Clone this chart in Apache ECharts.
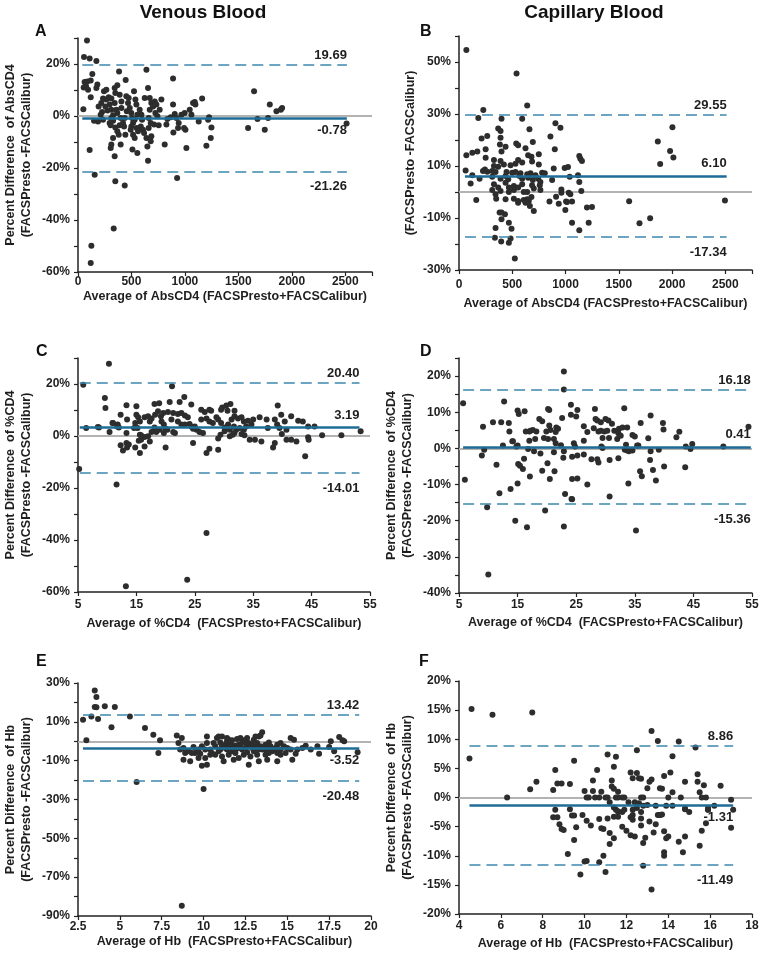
<!DOCTYPE html>
<html>
<head>
<meta charset="utf-8">
<script src="https://cdn.jsdelivr.net/npm/echarts@6/dist/echarts.min.js"></script>
<style>html,body{margin:0;padding:0;background:#fff;}#c{width:762px;height:959px;}</style>
</head>
<body>
<div id="c"></div>
<script>
// ---------- DATA ----------
const columnTitles = ['Venous Blood', 'Capillary Blood'];
const panelLetters = ['A', 'B', 'C', 'D', 'E', 'F'];

// [average, percent difference]
const venousAbsCD4 = [[84,29.0],[56,22.7],[109,22.1],[172,21.2],[134,16.2],[62,13.1],[87,13.3],[119,13.7],[53,11.0],[75,11.4],[94,10.1],[181,12.1],[172,10.8],[119,7.2],[50,2.6],[150,-1.8],[187,-2.1],[109,-13.1],[156,-22.6],[125,-49.9],[119,-56.5],
[243,9.5],[234,6.7],[218,5.0],[193,3.7],[225,1.5],[212,0.5],[234,-1.4],[265,10.1],[287,7.2],[312,6.7],[296,4.4],[312,2.4],[328,0.3],[312,-0.8],[296,-2.7],[306,-3.6],[275,2.1],[343,10.8],[368,11.8],[349,8.8],[343,5.0],[359,2.4],[368,1.2],[328,-1.8],[349,-4.4],[368,-5.9],[328,-8.5],[312,-11.0],[306,-12.3],[343,-15.5],[349,-25.1],[334,-43.3],[384,17.1],[265,6.3],[256,3.7],
[446,13.8],[390,8.2],[406,5.6],[406,3.1],[399,-0.8],[421,-2.7],[390,-3.6],[381,-7.2],[399,-11.0],[437,-26.7],[443,-7.2],[452,7.6],[474,6.9],[468,5.0],[484,3.1],[499,1.2],[505,-0.8],[515,-2.7],[499,-4.0],[493,-5.3],[515,-7.2],[530,-8.5],[509,-12.9],[555,-14.2],[524,9.5],[537,6.3],[546,4.4],[555,0.5],[530,-1.4],[549,-4.6],[562,-5.9],[456,1.8],[437,-0.8],[431,-4.0],
[640,17.8],[655,10.8],[577,2.4],[593,0.5],[599,-1.4],[587,-4.0],[608,-5.3],[618,-6.5],[640,-8.5],[649,-11.7],[655,-17.2],[624,6.9],[671,6.9],[686,5.0],[671,2.4],[661,-0.8],[680,-2.7],[661,-4.6],[686,-7.8],[680,-9.7],[702,3.7],[718,5.6],[733,4.4],[724,1.2],[743,-0.1],[711,-3.3],[755,-3.6],[764,2.4],[780,6.3],
[811,-11.0],[827,-3.3],[836,-1.2],[867,-0.5],[889,14.4],[889,4.4],[905,0.8],[920,-0.8],[892,-6.3],[936,-4.6],[927,-23.8],[942,-2.7],
[967,0.5],[998,1.2],[1005,-5.3],[1014,-12.3],[992,-4.6],[1045,2.4],[1061,0.5],[1076,5.0],[1092,5.4],[1098,4.4],[1129,-2.1],[1161,6.7],[1201,-11.4],[1226,-0.5],[1217,-1.4],[1248,-4.4],[1242,-8.5],
[1591,-4.6],[1647,9.5],[1679,-1.2],[1747,-5.3],[1778,-0.8],[1794,4.4],[1856,1.8],[1897,2.4],[1909,3.1],[2512,-2.9]];

const capillaryAbsCD4 = [[69,54.6],[540,45.6],[640,33.3],[228,31.5],[181,28.5],[399,28.2],[593,28.2],[905,26.4],[952,24.7],[661,24.1],[368,24.4],[390,23.5],[212,20.6],[265,21.5],[390,20.9],[858,21.3],[693,19.2],[384,18.3],[537,18.7],[555,18.0],[437,17.4],[624,16.8],[250,16.4],[172,15.6],[125,15.1],[69,14.1],[399,15.6],[899,16.4],[649,14.1],[680,13.6],[749,14.5],[1129,13.8],[1139,12.8],[1154,11.9],[250,13.2],[328,12.3],[390,11.9],[555,12.3],[593,11.3],[530,10.9],[484,10.3],[421,10.6],[686,11.7],[749,10.6],[328,10.0],[368,9.7],[243,8.7],[225,8.1],[265,7.8],[62,8.3],[312,8.1],[343,7.7],[446,7.7],[499,7.4],[530,7.7],[577,7.2],[640,6.8],[671,7.2],[718,6.4],[780,7.4],[805,7.2],[889,9.0],[992,9.2],[1023,9.6],[125,6.4],[193,5.1],[109,3.3],[312,5.9],[390,5.1],[437,6.2],[462,4.9],[568,6.2],[593,5.1],[649,5.5],[693,4.6],[743,5.1],[764,3.8],[874,4.6],[1039,5.9],[1117,6.4],[1129,3.8],[328,3.0],[368,1.7],[390,0.4],[312,0.8],[343,-0.9],[437,3.6],[468,1.7],[515,2.3],[515,0.8],[555,1.7],[593,3.0],[686,2.6],[702,1.3],[758,2.6],[764,0.8],[608,0.0],[640,0.0],[468,0.0],[680,-1.9],[608,-3.1],[640,-2.8],[655,-3.5],[555,-3.5],[515,-2.6],[437,-2.8],[349,-2.6],[555,-4.1],[624,-4.1],[162,-3.1],[702,-7.3],[665,-5.4],[961,1.0],[961,-0.3],[1030,-0.3],[1045,-0.9],[1148,0.4],[849,-3.7],[911,-1.8],[936,-4.5],[1005,-3.7],[1014,-3.8],[1061,-3.7],[998,-6.9],[1201,-6.0],[1248,-5.8],[381,-7.9],[399,-7.9],[431,-8.6],[399,-10.5],[468,-11.8],[493,-14.1],[343,-13.8],[337,-17.6],[396,-19.0],[468,-19.5],[484,-17.9],[524,-25.6],[1061,-11.8],[1129,-14.7],[1217,-11.8],[1597,-3.6],[1694,-12.0],[1794,-10.1],[1866,19.4],[1888,10.8],[1981,15.8],[2012,13.3],[2003,24.9],[2496,-3.3]];

const venousPctCD4 = [[10.3,27.8],[5.9,19.7],[21.1,19.1],[9.6,14.6],[9.7,10.8],[23.2,15.0],[22.4,13.1],[20.7,13.1],[18.9,12.6],[18.1,12.3],[13.3,11.8],[15.0,11.4],[24.4,12.1],[31.1,12.3],[30.4,11.7],[29.7,11.0],[31.8,9.7],[30.6,9.7],[29.5,10.1],[27.5,10.1],[27.8,9.7],[26.1,10.1],[26.7,9.2],[39.2,11.7],[18.7,9.5],[19.6,8.8],[20.4,9.2],[21.3,8.8],[22.1,8.5],[22.7,8.8],[23.3,7.9],[23.8,7.2],[12.3,8.2],[13.4,6.3],[11.0,5.0],[10.4,1.5],[12.0,3.3],[11.8,4.4],[15.0,8.2],[15.3,7.2],[15.6,5.6],[16.4,7.2],[17.0,7.6],[17.3,5.6],[17.6,6.7],[18.2,8.2],[19.2,7.6],[19.3,5.6],[19.7,4.4],[14.8,5.0],[15.2,3.1],[14.6,3.1],[15.6,0.5],[15.8,-1.4],[15.4,-1.8],[17.0,-0.1],[17.3,-2.1],[16.4,-4.0],[17.6,1.5],[18.4,1.5],[19.7,1.2],[12.3,-3.6],[12.7,-5.6],[13.7,-3.3],[14.8,-4.4],[15.6,-6.5],[20.0,-4.4],[13.3,1.2],[11.7,3.7],[8.4,3.5],[6.4,3.1],[10.9,5.0],[20.3,2.4],[21.3,1.5],[21.6,1.2],[21.0,6.3],[22.1,5.6],[22.7,4.4],[23.3,4.4],[24.1,4.6],[24.4,3.7],[24.7,2.8],[25.0,3.7],[25.3,2.4],[25.8,1.5],[26.4,1.2],[24.7,-2.7],[26.1,6.3],[27.0,6.7],[27.5,5.6],[28.1,5.0],[28.7,7.2],[29.0,6.3],[29.5,5.0],[30.1,3.3],[30.7,4.4],[31.3,6.3],[31.8,7.6],[32.4,6.7],[33.0,7.2],[33.4,5.6],[34.1,5.9],[35.0,6.3],[36.1,7.2],[34.7,4.4],[33.8,3.7],[33.4,2.4],[32.7,3.1],[32.1,2.4],[31.7,3.7],[31.0,2.4],[30.1,1.8],[29.4,0.5],[31.5,0.5],[31.0,-0.1],[31.8,1.2],[33.0,0.8],[33.5,0.3],[34.4,-1.4],[35.3,-1.4],[36.4,-2.1],[27.0,-6.5],[27.5,-4.9],[29.0,-5.3],[29.0,-1.0],[37.3,6.3],[37.5,3.1],[38.7,6.3],[39.1,4.4],[39.5,3.1],[39.8,8.2],[40.4,5.6],[41.5,7.6],[42.7,5.9],[43.5,5.6],[44.4,3.7],[45.5,3.7],[40.7,-1.4],[41.5,-1.4],[42.4,-2.1],[38.7,-2.7],[38.4,-4.4],[40.7,2.4],[39.9,0.8],[44.4,-0.5],[44.5,-1.4],[43.9,-7.8],[46.8,0.3],[50.1,0.3],[53.4,1.8],[5.2,-12.7],[11.6,-18.7],[27.0,-37.3],[23.7,-55.3],[13.2,-57.8],[8.6,3.3],[13.3,-2.7],[13.4,-4.4],[16.4,-0.4],[15.8,0.3],[18.1,3.3],[19.0,2.4],[20.0,2.8]];

const capillaryPctCD4 = [[22.9,21.3],[22.9,16.3],[5.7,12.5],[12.7,13.0],[24.1,12.1],[25.2,10.6],[20.2,10.9],[20.4,10.6],[16.2,10.3],[15.0,10.5],[15.2,9.5],[28.2,10.9],[33.2,11.1],[24.1,9.3],[25.0,8.8],[22.6,8.4],[18.7,8.1],[19.2,7.5],[20.4,6.3],[21.6,5.8],[21.9,5.4],[20.6,5.1],[19.9,4.7],[19.5,2.9],[20.2,2.6],[21.2,2.6],[21.5,4.5],[28.3,8.1],[28.6,7.7],[29.2,7.2],[30.0,8.1],[30.5,7.7],[31.1,6.8],[31.5,4.9],[32.3,5.4],[32.9,5.8],[33.7,5.8],[34.6,3.7],[35.0,3.3],[36.0,7.0],[37.7,9.1],[39.8,7.0],[39.9,5.2],[42.6,4.6],[42.1,3.1],[37.3,2.8],[26.3,6.1],[26.9,4.5],[26.3,2.1],[28.0,5.6],[28.8,4.7],[29.2,4.9],[29.8,4.7],[30.3,4.9],[29.5,2.9],[30.6,2.9],[32.2,4.2],[32.6,3.5],[32.0,2.6],[33.5,1.0],[33.3,-0.4],[33.7,-0.6],[34.0,-0.8],[34.6,-0.6],[35.6,0.8],[9.1,6.0],[10.8,7.2],[12.2,7.2],[13.5,7.0],[13.6,4.7],[14.2,2.0],[12.5,0.8],[16.4,4.7],[17.0,4.7],[17.2,4.9],[17.6,5.1],[18.0,2.6],[18.2,4.7],[17.0,2.1],[16.8,-0.2],[14.8,0.5],[15.0,0.8],[14.1,2.0],[22.4,0.9],[24.6,1.4],[24.8,0.5],[24.3,-2.3],[25.2,-2.0],[26.3,-1.7],[22.9,-0.8],[22.8,-2.6],[21.2,-1.1],[21.5,1.4],[8.9,-2.0],[9.3,-0.4],[11.4,-4.5],[11.9,-12.4],[13.8,-11.2],[15.0,-9.7],[15.1,-4.3],[15.4,-4.8],[16.1,-2.9],[15.9,-5.7],[17.1,-7.8],[17.8,-0.8],[18.9,-1.4],[19.2,-6.2],[20.1,-4.1],[20.5,-8.5],[21.3,-6.3],[24.3,-8.5],[25.2,-8.3],[23.1,-12.6],[24.2,-14.0],[24.3,-14.1],[26.9,-10.0],[27.6,-3.0],[28.6,-3.0],[28.8,-3.9],[30.7,-3.2],[32.2,-2.7],[33.9,-9.7],[30.7,-13.3],[35.4,0.8],[35.9,-6.3],[36.2,-7.7],[37.6,-3.2],[38.1,-6.0],[38.6,-8.9],[40.0,-5.0],[43.6,-5.2],[37.7,-0.8],[39.1,-0.4],[43.7,0.5],[44.5,-0.2],[44.8,1.2],[50.1,0.5],[54.4,6.0],[6.0,-8.7],[9.8,-16.3],[14.6,-20.0],[16.6,-21.8],[19.7,-17.2],[22.9,-21.6],[35.2,-22.7],[10.0,-34.9],[29.3,0.5],[29.5,0.1]];

const venousHb = [[3.5,26.2],[3.6,22.8],[3.5,17.6],[3.6,17.5],[4.1,18.0],[4.7,17.6],[2.8,11.1],[3.3,12.8],[3.7,11.5],[4.5,7.2],[5.6,12.8],[3.0,0.5],[6.5,6.8],[7.0,3.4],[7.4,0.5],[7.3,-6.1],[6.0,-21.0],
[8.4,2.9],[8.7,1.7],[8.5,-0.9],[8.8,-3.5],[8.6,-4.3],[8.9,-6.1],[8.8,-9.5],[9.2,-10.3],[9.1,-5.2],
[9.4,-3.0],[9.6,-5.2],[9.8,-6.4],[9.9,-12.6],[10.1,-8.6],[10.2,2.5],[10.2,-0.9],[10.4,-4.3],[10.7,-2.6],[10.8,1.7],[11.0,-0.6],[11.1,2.5],[11.3,-1.8],[11.4,0.0],[11.5,0.8],[11.6,-0.9],[11.8,-2.6],[11.9,-4.3],[12.0,1.2],[12.1,-1.8],[12.3,-0.6],[12.4,0.5],[12.6,-2.6],[12.7,-0.9],[12.9,-3.5],[13.0,0.8],[13.2,-0.9],[13.3,2.5],[13.4,2.9],[13.5,4.6],[13.7,-1.8],[13.8,-3.5],[13.9,-0.6],[14.0,-2.6],[14.2,-4.3],[14.4,-1.8],[14.6,-0.9],[14.8,-2.6],[15.0,-3.5],[15.2,1.7],[15.4,0.8],[15.6,-4.3],[15.9,-3.5],[16.1,-2.3],[16.4,-4.3],[16.8,-2.6],[17.6,0.0],[17.8,-5.2],[18.1,2.2],[18.3,0.5],[18.4,0.0],[19.2,-5.7],[16.9,-6.4],[17.5,-3.0],
[10.5,-6.1],[10.7,-6.9],[10.9,-5.2],[11.1,-7.8],[11.2,-10.3],[11.4,-4.3],[11.5,-6.9],[11.7,-5.2],[11.8,-9.5],[11.9,-6.1],[12.1,-8.6],[12.3,-4.3],[12.4,-6.9],[12.6,-5.7],[12.7,-12.1],[12.8,-7.8],[13.0,-5.2],[13.2,-6.9],[13.3,-10.3],[13.5,-4.3],[13.7,-6.9],[13.8,-9.5],[13.9,-6.1],[14.1,-5.2],[14.4,-10.3],[14.6,-6.9],[14.9,-6.1],[15.3,-9.5],[15.5,-6.4],[11.1,-2.6],[11.3,-3.5],[11.6,-2.6],[11.9,-2.3],[12.2,-3.0],[12.5,-3.5],[12.8,-2.6],[13.1,-3.0],[13.4,-2.6],[13.7,-4.3],[13.9,-3.5],[14.3,-3.5],[11.0,-4.3],[11.7,-4.0],[12.0,-3.7],[12.9,-1.8],[13.3,-4.3],[10.6,-0.9],[10.4,-6.9],[10.1,-4.3],[9.9,-2.6],[9.7,-4.3],[9.7,-8.6],[10.2,-12.1],[9.5,-6.1],[9.3,-6.1],[12.5,-0.9],[12.6,1.7],[13.1,2.5],[11.4,1.7],[10.9,2.5],[11.7,0.5],[12.2,1.7],[14.4,-6.1],[15.2,-4.3],[14.6,-4.3],
[10.0,-24.6],[8.7,-84.7]];

const capillaryHb = [[4.6,15.2],[5.6,14.2],[7.5,14.6],[4.5,6.7],[6.3,0.0],[13.2,11.4],[13.5,9.7],[14.5,9.6],[15.3,8.6],[12.5,8.1],[14.2,7.1],[11.1,7.4],[11.5,7.0],[9.5,6.3],[11.4,5.3],[8.6,4.7],[10.6,4.7],[7.7,2.7],[7.4,1.4],[8.7,2.4],[8.9,2.4],[9.3,2.3],[8.5,1.3],
[10.4,2.9],[11.3,2.9],[12.2,4.3],[12.5,4.2],[12.3,3.3],[12.6,3.3],[12.7,3.2],[13.2,3.1],[13.1,2.7],[13.0,1.6],[13.6,1.6],[13.7,1.5],[13.8,3.7],[14.1,4.3],[14.8,2.7],[15.4,4.0],[15.4,2.7],[15.7,2.1],[15.5,0.9],[16.5,2.0],[15.8,0.0],[14.6,0.0],[14.2,0.9],[14.0,0.0],
[10.0,1.1],[10.1,0.0],[10.4,1.1],[10.2,0.0],[10.5,0.0],[10.7,0.0],[10.8,1.0],[11.0,0.0],[11.1,0.0],[11.3,1.9],[11.4,1.5],[11.5,0.0],[11.6,1.0],[11.6,0.0],[11.8,0.0],[11.9,0.0],[12.1,-0.8],[12.4,-0.8],[12.7,0.0],[12.8,0.0],
[11.2,-0.8],[11.4,-1.7],[11.5,-2.1],[11.6,-2.4],[11.8,-2.5],[11.9,-2.1],[12.2,-3.4],[12.3,-2.1],[12.5,-1.8],[12.6,-1.0],[12.7,-2.5],[12.8,-1.4],[13.0,-1.3],[13.4,-1.4],[13.5,-3.0],[13.6,-3.0],[13.9,-1.4],[14.2,-1.4],[14.8,-1.9],[15.0,-2.5],[15.9,-1.8],[15.9,-2.1],[16.2,-1.4],[17.0,-0.4],[17.1,-2.1],
[8.6,-2.1],[8.5,-3.4],[8.7,-3.4],[8.8,-4.6],[8.9,-5.4],[9.0,-5.6],[9.3,-2.0],[9.4,-3.1],[9.5,-3.1],[9.6,-5.1],[9.5,-7.3],[9.9,-3.0],[10.1,-4.0],[10.3,-4.8],[10.7,-3.7],[10.8,-5.3],[10.9,-5.4],[11.1,-3.6],[11.2,-6.1],[11.2,-8.0],[11.4,-7.0],[11.4,-3.3],[11.6,-3.3],[11.6,-2.4],[11.8,-5.0],[12.0,-5.7],[12.2,-6.5],[12.3,-3.8],[12.3,-3.0],[12.7,-3.6],[12.7,-4.8],[12.8,-7.8],[12.9,-6.9],[13.1,-4.1],[13.3,-6.0],[13.4,-4.6],[13.6,-3.0],[13.7,-2.9],[13.8,-5.8],[14.0,-6.7],[13.9,-7.0],[14.5,-7.6],[14.8,-6.7],[14.8,-2.0],[15.6,-5.7],[15.8,-4.4],[15.5,-8.3],[15.9,-2.1],[17.0,-5.2],[15.6,0.0],
[9.2,-9.7],[10.0,-11.0],[10.1,-10.9],[10.7,-11.1],[10.9,-10.0],[9.8,-13.2],[11.0,-12.8],[12.8,-11.7],[13.2,-15.8],[13.8,-9.4],[13.8,-10.0],[14.7,-9.4],[12.4,-6.7]];

// Bland-Altman statistics: [upper limit, mean bias, lower limit]
const limitsA = [19.69, -0.78, -21.26];
const limitsB = [29.55, 6.10, -17.34];
const limitsC = [20.40, 3.19, -14.01];
const limitsD = [16.18, 0.41, -15.36];
const limitsE = [13.42, -3.52, -20.48];
const limitsF = [8.86, -1.31, -11.49];

// x extent of the limit lines (data units)
const lineSpanA = [40, 2515];
const lineSpanB = [56, 2512];
const lineSpanC = [5.3, 53.2];
const lineSpanD = [5.7, 54.8];
const lineSpanE = [2.8, 19.3];
const lineSpanF = [4.5, 17.1];

// axes: [min, max, interval]
const xAxisAbs = [0, 2750, 500];
const xAxisPct = [5, 55, 10];
const xAxisHbV = [2.5, 20, 2.5];
const xAxisHbC = [4, 18, 2];
const yAxisA = [-60, 30, 10];
const yAxisB = [-30, 60, 10];
const yAxisC = [-60, 30, 10];
const yAxisD = [-40, 25, 5];
const yAxisE = [-90, 30, 10];
const yAxisF = [-20, 20, 5];

// tick labels shown
const xTicksAbs = [0, 500, 1000, 1500, 2000, 2500];
const xTicksPct = [5, 15, 25, 35, 45, 55];
const xTicksHbV = [2.5, 5, 7.5, 10, 12.5, 15, 17.5, 20];
const xTicksHbC = [4, 6, 8, 10, 12, 14, 16, 18];
const yTicksA = [-60, -40, -20, 0, 20];
const yTicksB = [-30, -10, 10, 30, 50];
const yTicksC = [-60, -40, -20, 0, 20];
const yTicksD = [-40, -30, -20, -10, 0, 10, 20];
const yTicksE = [-90, -70, -50, -30, -10, 10, 30];
const yTicksF = [-20, -15, -10, -5, 0, 5, 10, 15, 20];

const xNames = ['Average of AbsCD4 (FACSPresto+FACSCalibur)', 'Average of AbsCD4 (FACSPresto+FACSCalibur)',
  'Average of %CD4  (FACSPresto+FACSCalibur)', 'Average of %CD4  (FACSPresto+FACSCalibur)',
  'Average of Hb  (FACSPresto+FACSCalibur)', 'Average of Hb  (FACSPresto+FACSCalibur)'];
const yNames = ['Percent Difference  of AbsCD4\n(FACSPresto -FACSCalibur)', '(FACSPresto -FACSCalibur)',
  'Percent Difference  of %CD4\n(FACSPresto -FACSCalibur)', 'Percent Difference  of %CD4\n(FACSPresto -FACSCalibur)',
  'Percent Difference  of Hb\n(FACSPresto -FACSCalibur)', 'Percent Difference  of Hb\n(FACSPresto -FACSCalibur)'];

// ---------- LAYOUT / STYLE ----------
const FONT = "'Liberation Sans', Arial, Helvetica, sans-serif";
const TXT = '#1e1e1e';
const DASH = '#3b88ad';
const MEAN = '#1f6d97';

const panels = [
  {data: venousAbsCD4, lim: limitsA, span: lineSpanA, xa: xAxisAbs, ya: yAxisA, xt: xTicksAbs, yt: yTicksA, meanPos: 'bottom',
   grid: {left: 78, top: 38, width: 294, height: 234}, xGap: 18, xMargin: 4, yGap: 43},
  {data: capillaryAbsCD4, lim: limitsB, span: lineSpanB, xa: xAxisAbs, ya: yAxisB, xt: xTicksAbs, yt: yTicksB, meanPos: 'top',
   grid: {left: 459, top: 36, width: 293, height: 234}, xGap: 27, xMargin: 9, yGap: 40},
  {data: venousPctCD4, lim: limitsC, span: lineSpanC, xa: xAxisPct, ya: yAxisC, xt: xTicksPct, yt: yTicksC, meanPos: 'top',
   grid: {left: 78, top: 358, width: 292, height: 234}, xGap: 25, xMargin: 7, yGap: 43},
  {data: capillaryPctCD4, lim: limitsD, span: lineSpanD, xa: xAxisPct, ya: yAxisD, xt: xTicksPct, yt: yTicksD, meanPos: 'top',
   grid: {left: 459, top: 358, width: 293, height: 235}, xGap: 23, xMargin: 6, yGap: 43},
  {data: venousHb, lim: limitsE, span: lineSpanE, xa: xAxisHbV, ya: yAxisE, xt: xTicksHbV, yt: yTicksE, meanPos: 'bottom',
   grid: {left: 78, top: 683, width: 293, height: 233}, xGap: 19, xMargin: 5, yGap: 43},
  {data: capillaryHb, lim: limitsF, span: lineSpanF, xa: xAxisHbC, ya: yAxisF, xt: xTicksHbC, yt: yTicksF, meanPos: 'bottom',
   grid: {left: 459, top: 681, width: 293, height: 233}, xGap: 23, xMargin: 6, yGap: 43}
];

const grids = [], xAxes = [], yAxes = [], series = [];
const has = (arr, v) => arr.some(t => Math.abs(t - v) < 1e-6);

panels.forEach((p, i) => {
  grids.push(Object.assign({containLabel: false}, p.grid));
  const axisLine = {show: true, onZero: false, lineStyle: {color: '#222', width: 1.5}};
  const axisTick = {show: true, length: 4, lineStyle: {color: '#222', width: 1.2}};
  xAxes.push({
    type: 'value', gridIndex: i, min: p.xa[0], max: p.xa[1], interval: p.xa[2],
    axisLine, axisTick, splitLine: {show: false},
    axisLabel: {margin: p.xMargin, color: TXT, fontFamily: FONT, fontWeight: 'bold', fontSize: 12,
      showMaxLabel: true, formatter: v => has(p.xt, v) ? String(v) : ''},
    name: xNames[i], nameLocation: 'middle', nameGap: p.xGap,
    nameTextStyle: {color: TXT, fontFamily: FONT, fontWeight: 'bold', fontSize: 12.5}
  });
  yAxes.push({
    type: 'value', gridIndex: i, min: p.ya[0], max: p.ya[1], interval: p.ya[2],
    axisLine, axisTick, splitLine: {show: false},
    axisLabel: {margin: 8, color: TXT, fontFamily: FONT, fontWeight: 'bold', fontSize: 12,
      formatter: v => has(p.yt, v) ? v + '%' : ''},
    name: yNames[i], nameLocation: 'middle', nameGap: p.yGap,
    nameTextStyle: {color: TXT, fontFamily: FONT, fontWeight: 'bold', fontSize: 12.5, lineHeight: 16}
  });
  const lbl = (pos, dist) => ({show: true, position: pos, distance: dist, color: TXT,
    fontFamily: FONT, fontWeight: 'bold', fontSize: 13});
  const seg = (v, style, label) => [
    {coord: [p.span[0], v], lineStyle: style, label: label},
    {coord: [p.span[1], v]}
  ];
  const dashStyle = {color: DASH, width: 1.6, type: [11, 6]};
  const meanStyle = {color: MEAN, width: 2.6, type: 'solid'};
  // zero reference line (under points)
  series.push({
    type: 'line', xAxisIndex: i, yAxisIndex: i, data: [], z: 1, silent: true,
    markLine: {silent: true, symbol: ['none', 'none'], animation: false, z: 1,
      label: {show: false},
      data: [{yAxis: 0, lineStyle: {color: '#b3b3b3', width: 1.8, type: 'solid'}}]}
  });
  series.push({
    type: 'scatter', xAxisIndex: i, yAxisIndex: i, data: p.data, z: 3,
    symbol: 'circle', symbolSize: 6, itemStyle: {color: '#2d2d2d', opacity: 1},
    markLine: {silent: true, symbol: ['none', 'none'], animation: false, z: 4,
      data: [
        seg(p.lim[0], dashStyle, Object.assign(lbl('insideEndTop', [0, 3]), {formatter: p.lim[0].toFixed(2)})),
        seg(p.lim[1], meanStyle, Object.assign(lbl(p.meanPos === 'top' ? 'insideEndTop' : 'insideEndBottom', [0, 6]), {formatter: p.lim[1].toFixed(2)})),
        seg(p.lim[2], dashStyle, Object.assign(lbl('insideEndBottom', [0, 9]), {formatter: p.lim[2].toFixed(2)}))
      ]}
  });
});

const letterPos = [[35, 32], [420, 32], [36, 352], [420, 352], [36, 662], [419, 662]];
const graphics = [
  {type: 'text', x: 203, y: 13, style: {text: columnTitles[0], font: 'bold 19px ' + FONT, fill: '#111', textAlign: 'center', textVerticalAlign: 'middle'}},
  {type: 'text', x: 594, y: 13, style: {text: columnTitles[1], font: 'bold 19px ' + FONT, fill: '#111', textAlign: 'center', textVerticalAlign: 'middle'}}
];
panelLetters.forEach((l, i) => graphics.push({type: 'text', x: letterPos[i][0], y: letterPos[i][1],
  style: {text: l, font: 'bold 16px ' + FONT, fill: '#111', textAlign: 'left', textVerticalAlign: 'middle'}}));

const chart = echarts.init(document.getElementById('c'), null, {renderer: 'canvas'});
chart.setOption({
  animation: false,
  backgroundColor: '#fff',
  grid: grids, xAxis: xAxes, yAxis: yAxes, series: series, graphic: graphics
});
</script>
</body>
</html>
